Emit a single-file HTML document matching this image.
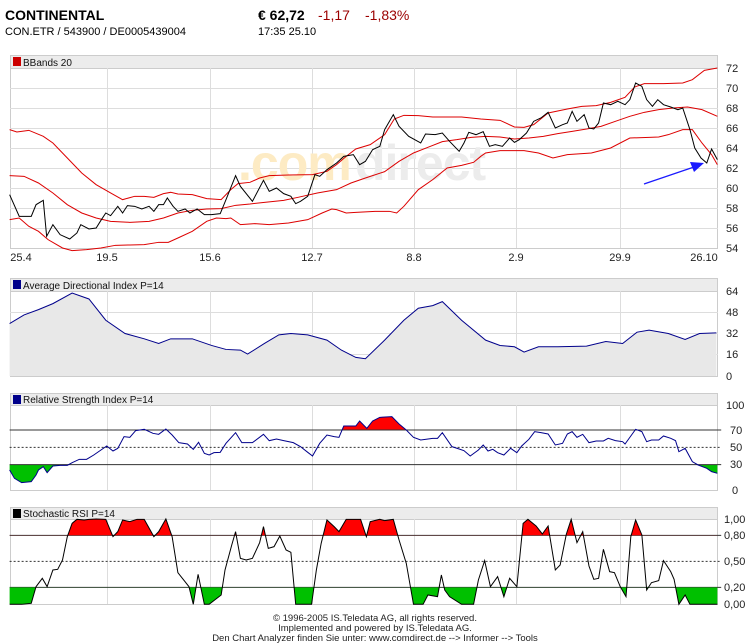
<!DOCTYPE html>
<html><head><meta charset="utf-8"><style>
body{margin:0;background:#fff;width:750px;height:643px;overflow:hidden}
svg{display:block;font-family:"Liberation Sans",Arial,sans-serif}
.ax{font-size:11px;fill:#222}
</style></head><body>
<svg width="750" height="643" viewBox="0 0 750 643">
<defs>
<clipPath id="rU"><rect x="0" y="0" width="2000" height="120"/></clipPath>
<clipPath id="rL"><rect x="0" y="224" width="2000" height="200"/></clipPath>
<clipPath id="sU"><rect x="0" y="300" width="2000" height="136"/></clipPath>
<clipPath id="sL"><rect x="0" y="592" width="2000" height="100"/></clipPath>
</defs>
<text x="5" y="20" font-size="14" font-weight="bold">CONTINENTAL</text>
<text x="258" y="20" font-size="14" font-weight="bold">€ 62,72</text>
<text x="318" y="20" font-size="14" fill="#9b0000">-1,17</text>
<text x="365" y="20" font-size="14" fill="#9b0000">-1,83%</text>
<text x="5" y="35" font-size="11">CON.ETR  /  543900  /  DE0005439004</text>
<text x="258" y="35" font-size="11">17:35   25.10</text>

<g fill="#ececec" stroke="#ccc" stroke-width="1">
<rect x="10.5" y="55.5" width="707" height="13"/>
<rect x="10.5" y="278.5" width="707" height="13"/>
<rect x="10.5" y="393.5" width="707" height="12"/>
<rect x="10.5" y="507.5" width="707" height="12"/>
</g>
<g fill="#fff" stroke="#ccc">
<rect x="10.5" y="68.5" width="707" height="180"/>
<rect x="10.5" y="291.5" width="707" height="85"/>
<rect x="10.5" y="405.5" width="707" height="85"/>
<rect x="10.5" y="519.5" width="707" height="85"/>
</g>
<g fill="#c00"><rect x="13" y="57" width="8" height="9"/></g>
<g fill="#00008b"><rect x="13" y="280" width="8" height="9"/><rect x="13" y="395" width="8" height="9"/></g>
<rect x="13" y="509" width="8" height="9" fill="#000"/>
<g font-size="10" fill="#111">
<text x="23" y="66">BBands 20</text>
<text x="23" y="289">Average Directional Index P=14</text>
<text x="23" y="403">Relative Strength Index P=14</text>
<text x="23" y="517">Stochastic RSI P=14</text>
</g>
<g stroke="#ddd">
<path d="M107.5 68V248M210.5 68V248M312.5 68V248M414.5 68V248M516.5 68V248M620.5 68V248"/>
<path d="M107.5 291V376M210.5 291V376M312.5 291V376M414.5 291V376M516.5 291V376M620.5 291V376"/>
<path d="M107.5 405V490M210.5 405V490M312.5 405V490M414.5 405V490M516.5 405V490M620.5 405V490"/>
<path d="M107.5 519V604M210.5 519V604M312.5 519V604M414.5 519V604M516.5 519V604M620.5 519V604"/>
<path d="M10 88.5H718M10 108.5H718M10 128.5H718M10 148.5H718M10 168.5H718M10 188.5H718M10 208.5H718M10 228.5H718"/>
<path d="M10 312.5H718M10 333.5H718M10 354.5H718"/>
</g>
<text x="238" y="180" font-size="50" font-weight="bold" fill="#fdebc4" letter-spacing="-1">.com</text>
<text x="355" y="180" font-size="50" font-weight="bold" fill="#ececec" letter-spacing="-1">direct</text>

<g transform="matrix(0.4808,0,0,0.3333,0,49.67)" fill="none" stroke-width="1">
<polyline vector-effect="non-scaling-stroke" stroke="#d00" points="20,240 35,247 60,242 90,260 110,280 140,325 170,370 200,405 230,430 255,450 280,440 300,440 320,443 340,432 355,428 370,433 400,435 430,447 460,450 480,420 495,402 520,398 540,385 560,378 600,376 650,375 680,365 700,345 720,320 740,298 770,285 800,255 820,208 840,197 870,198 900,202 960,202 1000,208 1040,212 1070,232 1090,233 1110,225 1140,190 1180,178 1210,170 1240,168 1270,158 1300,143 1320,112 1340,102 1380,102 1420,100 1440,90 1465,62 1492,55"/>
<polyline vector-effect="non-scaling-stroke" stroke="#d00" points="20,378 50,380 80,400 110,430 140,465 170,490 200,505 230,515 270,518 310,515 340,505 370,490 400,482 430,478 460,477 490,467 520,463 550,458 590,452 620,443 660,430 700,420 730,400 760,385 800,366 830,335 860,310 890,293 920,276 950,270 980,263 1010,260 1040,262 1070,268 1100,265 1130,260 1160,252 1190,245 1220,238 1250,230 1280,215 1310,200 1340,188 1370,180 1400,175 1430,172 1460,180 1492,200"/>
<polyline vector-effect="non-scaling-stroke" stroke="#d00" points="20,510 40,505 60,530 80,545 100,570 130,595 150,603 180,600 210,595 240,587 270,586 300,585 330,578 350,578 370,565 400,545 430,515 450,505 470,507 480,505 500,525 530,522 560,525 600,520 640,510 670,490 690,478 700,480 720,490 740,488 780,485 810,485 825,490 840,470 870,420 900,390 930,355 960,347 985,338 1000,320 1010,310 1040,303 1090,303 1120,310 1150,325 1180,315 1230,310 1270,295 1310,265 1350,263 1370,262 1390,255 1420,240 1440,240 1460,280 1480,315 1492,345"/>
<polyline vector-effect="non-scaling-stroke" stroke="#000" points="20,435 40,500 65,500 75,465 90,452 97,560 110,525 125,555 145,568 160,550 168,525 185,538 200,535 210,512 220,490 230,498 245,470 255,490 265,468 280,470 295,478 310,470 320,485 330,465 340,465 348,445 360,470 370,485 385,478 395,490 410,478 425,495 440,495 458,492 470,450 490,378 500,410 525,455 548,392 560,425 575,415 590,432 605,440 615,462 625,455 640,440 655,375 665,380 680,360 700,340 715,320 735,315 748,345 760,335 775,300 790,290 800,240 818,195 830,230 850,260 875,280 885,253 905,255 920,250 935,275 955,305 965,280 975,248 990,255 1005,246 1018,290 1030,285 1045,290 1060,265 1070,278 1080,270 1095,250 1110,215 1125,205 1140,188 1155,235 1170,225 1180,220 1190,185 1200,215 1215,195 1225,235 1235,238 1245,220 1255,160 1270,165 1285,155 1300,165 1310,150 1322,100 1335,110 1345,150 1357,170 1368,150 1380,165 1395,172 1410,180 1420,175 1435,240 1445,295 1458,325 1470,340 1480,298 1492,330"/>
</g>
<line x1="644" y1="184" x2="694" y2="167" stroke="#1a1aff" stroke-width="1.2"/>
<polygon points="704,163 690,162 694,172" fill="#1a1aff"/>
<g class="ax">
<text x="726" y="72">72</text><text x="726" y="92">70</text><text x="726" y="112">68</text><text x="726" y="132">66</text><text x="726" y="152">64</text><text x="726" y="172">62</text><text x="726" y="192">60</text><text x="726" y="212">58</text><text x="726" y="232">56</text><text x="726" y="252">54</text>
</g>
<g class="ax" text-anchor="middle">
<text x="21" y="261">25.4</text><text x="107" y="261">19.5</text><text x="210" y="261">15.6</text><text x="312" y="261">12.7</text><text x="414" y="261">8.8</text><text x="516" y="261">2.9</text><text x="620" y="261">29.9</text><text x="704" y="261">26.10</text>
</g>

<g transform="matrix(0.4808,0,0,-1.328,0,376)">
<polygon fill="#e8e8e8" points="20,0 20,39.5 50,46 80,50 110,54.5 150,62.5 185,58 220,42 260,32 300,28 330,24.5 355,28 400,28 440,23 470,20 500,19.5 515,16.5 550,24.5 580,31 605,32 640,31 680,27 710,19.5 740,14 760,13 800,27 840,42 870,51 900,53 920,56 960,42 1010,27 1040,23 1070,22 1090,18 1120,22 1160,22 1220,22.5 1260,26 1295,24.5 1325,33 1350,34.5 1390,32 1425,27.5 1455,32 1490,32.5 1490,0"/>
<polyline vector-effect="non-scaling-stroke" fill="none" stroke="#00008b" points="20,39.5 50,46 80,50 110,54.5 150,62.5 185,58 220,42 260,32 300,28 330,24.5 355,28 400,28 440,23 470,20 500,19.5 515,16.5 550,24.5 580,31 605,32 640,31 680,27 710,19.5 740,14 760,13 800,27 840,42 870,51 900,53 920,56 960,42 1010,27 1040,23 1070,22 1090,18 1120,22 1160,22 1220,22.5 1260,26 1295,24.5 1325,33 1350,34.5 1390,32 1425,27.5 1455,32 1490,32.5"/>
</g>
<g class="ax"><text x="726" y="295">64</text><text x="726" y="316">48</text><text x="726" y="337">32</text><text x="726" y="358">16</text><text x="726" y="380">0</text></g>

<g transform="matrix(0.4808,0,0,0.3333,0,390)">
<polygon clip-path="url(#rU)" fill="#f00" points="20,120 20,240 30,265 45,278 65,275 75,255 80,240 90,230 98,248 110,228 125,226 140,226 150,218 165,208 180,208 195,195 210,180 222,168 235,183 245,175 258,140 270,142 282,122 300,118 318,130 330,133 345,117 358,135 372,158 390,162 402,178 413,157 425,190 435,195 445,188 458,187 470,160 490,128 503,158 525,158 548,133 560,152 575,147 590,152 610,158 625,170 640,187 650,198 665,160 680,135 695,140 705,142 715,108 740,108 748,93 763,115 775,93 790,82 815,80 830,102 845,120 860,142 875,150 900,145 910,145 920,128 940,170 955,177 965,182 978,198 995,180 1005,165 1015,183 1025,178 1035,188 1048,195 1062,175 1075,188 1085,168 1100,148 1112,125 1125,128 1140,132 1155,165 1170,160 1180,132 1190,125 1200,142 1212,133 1225,158 1240,153 1255,153 1265,145 1280,152 1295,155 1300,162 1312,138 1322,118 1335,125 1345,155 1355,150 1370,150 1380,138 1395,145 1405,152 1412,185 1425,175 1440,215 1452,225 1470,235 1480,245 1492,250 1492,120"/>
<polygon clip-path="url(#rL)" fill="#00c000" points="20,224 20,240 30,265 45,278 65,275 75,255 80,240 90,230 98,248 110,228 125,226 140,226 150,218 165,208 1440,215 1452,225 1470,235 1480,245 1492,250 1492,224"/>
<g stroke="#333">
<line vector-effect="non-scaling-stroke" x1="20" y1="120" x2="1500" y2="120"/>
<line vector-effect="non-scaling-stroke" x1="20" y1="224" x2="1500" y2="224"/>
<line vector-effect="non-scaling-stroke" x1="20" y1="172" x2="1500" y2="172" stroke-dasharray="2 2"/>
<line vector-effect="non-scaling-stroke" x1="20" y1="436" x2="1500" y2="436"/>
<line vector-effect="non-scaling-stroke" x1="20" y1="592" x2="1500" y2="592"/>
<line vector-effect="non-scaling-stroke" x1="20" y1="514" x2="1500" y2="514" stroke-dasharray="2 2"/>
</g>
<polyline vector-effect="non-scaling-stroke" fill="none" stroke="#00008b" points="20,240 30,265 45,278 65,275 75,255 80,240 90,230 98,248 110,228 125,226 140,226 150,218 165,208 180,208 195,195 210,180 222,168 235,183 245,175 258,140 270,142 282,122 300,118 318,130 330,133 345,117 358,135 372,158 390,162 402,178 413,157 425,190 435,195 445,188 458,187 470,160 490,128 503,158 525,158 548,133 560,152 575,147 590,152 610,158 625,170 640,187 650,198 665,160 680,135 695,140 705,142 715,108 740,108 748,93 763,115 775,93 790,82 815,80 830,102 845,120 860,142 875,150 900,145 910,145 920,128 940,170 955,177 965,182 978,198 995,180 1005,165 1015,183 1025,178 1035,188 1048,195 1062,175 1075,188 1085,168 1100,148 1112,125 1125,128 1140,132 1155,165 1170,160 1180,132 1190,125 1200,142 1212,133 1225,158 1240,153 1255,153 1265,145 1280,152 1295,155 1300,162 1312,138 1322,118 1335,125 1345,155 1355,150 1370,150 1380,138 1395,145 1405,152 1412,185 1425,175 1440,215 1452,225 1470,235 1480,245 1492,250"/>
<polygon clip-path="url(#sU)" fill="#f00" points="20,436 20,643 45,643 65,640 75,590 88,565 98,590 110,540 120,538 130,510 140,440 150,400 160,388 175,390 185,388 200,387 220,388 235,440 245,425 255,390 270,395 285,388 300,388 320,440 330,425 345,387 358,440 370,548 382,570 393,590 402,643 412,553 425,643 435,643 460,615 468,540 482,465 490,425 500,505 512,510 525,505 540,458 548,410 558,475 570,470 582,438 595,480 605,487 615,643 648,643 658,540 668,460 680,390 695,410 705,425 720,388 750,388 762,440 770,395 790,388 800,392 818,388 830,450 845,520 860,643 880,643 890,615 910,620 918,555 925,600 935,620 960,643 985,643 995,570 1008,512 1020,590 1035,560 1048,620 1060,565 1075,590 1088,400 1098,388 1115,408 1128,432 1140,408 1155,540 1165,525 1178,432 1188,388 1200,458 1212,425 1225,528 1235,568 1245,565 1255,478 1268,545 1278,548 1290,590 1302,620 1312,440 1322,390 1335,435 1345,600 1355,578 1370,572 1380,512 1395,545 1402,568 1412,643 1425,615 1435,643 1492,643 1492,436"/>
<polygon clip-path="url(#sL)" fill="#00c000" points="20,592 20,643 45,643 65,640 75,590 88,565 98,590 110,540 120,538 130,510 140,440 150,400 160,388 175,390 185,388 200,387 220,388 235,440 245,425 255,390 270,395 285,388 300,388 320,440 330,425 345,387 358,440 370,548 382,570 393,590 402,643 412,553 425,643 435,643 460,615 468,540 482,465 490,425 500,505 512,510 525,505 540,458 548,410 558,475 570,470 582,438 595,480 605,487 615,643 648,643 658,540 668,460 680,390 695,410 705,425 720,388 750,388 762,440 770,395 790,388 800,392 818,388 830,450 845,520 860,643 880,643 890,615 910,620 918,555 925,600 935,620 960,643 985,643 995,570 1008,512 1020,590 1035,560 1048,620 1060,565 1075,590 1088,400 1098,388 1115,408 1128,432 1140,408 1155,540 1165,525 1178,432 1188,388 1200,458 1212,425 1225,528 1235,568 1245,565 1255,478 1268,545 1278,548 1290,590 1302,620 1312,440 1322,390 1335,435 1345,600 1355,578 1370,572 1380,512 1395,545 1402,568 1412,643 1425,615 1435,643 1492,643 1492,592"/>
<polyline vector-effect="non-scaling-stroke" fill="none" stroke="#000" points="20,643 45,643 65,640 75,590 88,565 98,590 110,540 120,538 130,510 140,440 150,400 160,388 175,390 185,388 200,387 220,388 235,440 245,425 255,390 270,395 285,388 300,388 320,440 330,425 345,387 358,440 370,548 382,570 393,590 402,643 412,553 425,643 435,643 460,615 468,540 482,465 490,425 500,505 512,510 525,505 540,458 548,410 558,475 570,470 582,438 595,480 605,487 615,643 648,643 658,540 668,460 680,390 695,410 705,425 720,388 750,388 762,440 770,395 790,388 800,392 818,388 830,450 845,520 860,643 880,643 890,615 910,620 918,555 925,600 935,620 960,643 985,643 995,570 1008,512 1020,590 1035,560 1048,620 1060,565 1075,590 1088,400 1098,388 1115,408 1128,432 1140,408 1155,540 1165,525 1178,432 1188,388 1200,458 1212,425 1225,528 1235,568 1245,565 1255,478 1268,545 1278,548 1290,590 1302,620 1312,440 1322,390 1335,435 1345,600 1355,578 1370,572 1380,512 1395,545 1402,568 1412,643 1425,615 1435,643 1492,643"/>
</g>
<g class="ax">
<text x="726" y="409">100</text><text x="730" y="434">70</text><text x="730" y="451">50</text><text x="730" y="468">30</text><text x="732" y="494">0</text>
<text x="724" y="523">1,00</text><text x="724" y="539">0,80</text><text x="724" y="565">0,50</text><text x="724" y="591">0,20</text><text x="724" y="608">0,00</text>
</g>
<g font-size="9.5" fill="#222" text-anchor="middle">
<text x="375" y="621">© 1996-2005 IS.Teledata AG, all rights reserved.</text>
<text x="375" y="631">Implemented and powered by IS.Teledata AG.</text>
<text x="375" y="641">Den Chart Analyzer finden Sie unter: www.comdirect.de --&gt; Informer --&gt; Tools</text>
</g>
</svg>
</body></html>
